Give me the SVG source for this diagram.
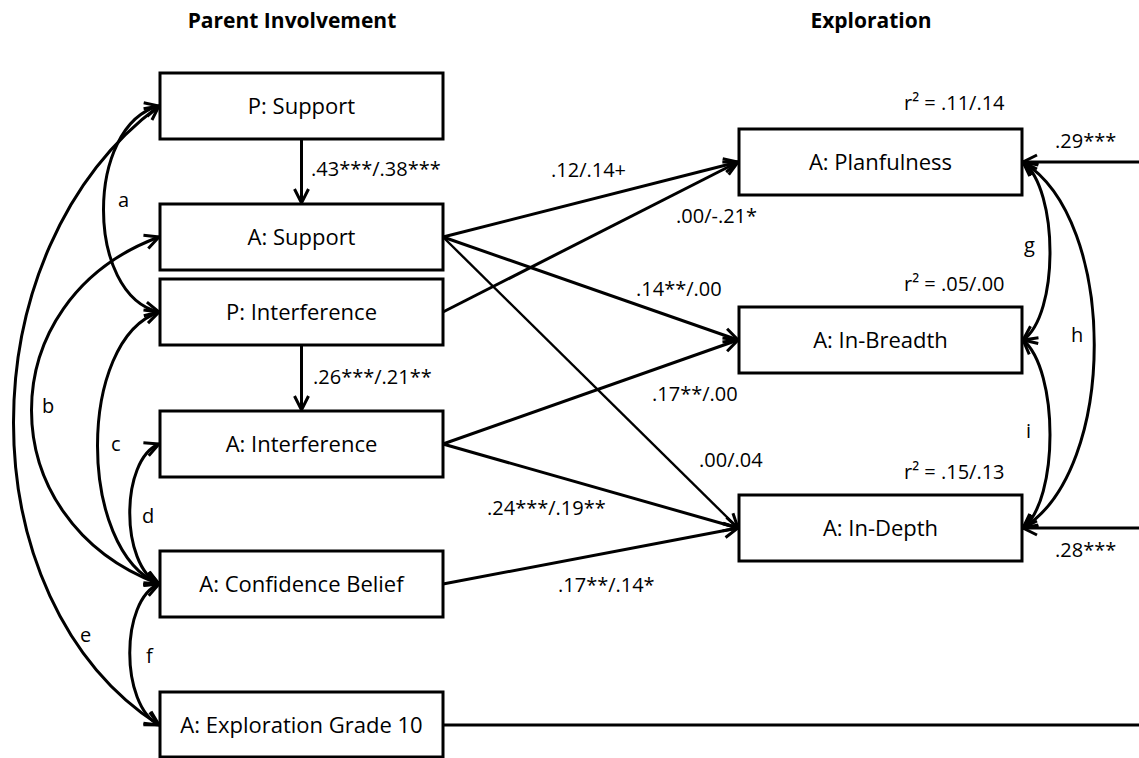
<svg xmlns="http://www.w3.org/2000/svg" width="1139" height="758" viewBox="0 0 1139 758">
<defs>
<style>
.box{fill:#fff;stroke:#000;stroke-width:3}
.nt{font-family:"Open Sans","Liberation Sans",sans-serif;font-size:22px;fill:#000;text-anchor:middle}
.hd{font-family:"Open Sans","Liberation Sans",sans-serif;font-size:21px;font-weight:bold;fill:#000;text-anchor:middle}
.lb{font-family:"Open Sans","Liberation Sans",sans-serif;font-size:20px;fill:#000}
.ln{fill:none;stroke:#000;stroke-width:3}
.th{fill:none;stroke:#000;stroke-width:2.4}
.ar{marker-end:url(#ah)}
.dbl{marker-start:url(#ah);marker-end:url(#ah)}
</style>
<marker id="ah" markerUnits="userSpaceOnUse" markerWidth="20" markerHeight="20" viewBox="-16 -10 20 20" refX="0" refY="0" orient="auto-start-reverse">
<path d="M-14,-7 L0,0 L-14,7" fill="none" stroke="#000" stroke-width="3"/>
</marker>
</defs>
<rect width="1139" height="758" fill="#fff"/>

<text class="hd" x="292" y="28">Parent Involvement</text>
<text class="hd" x="871" y="28">Exploration</text>

<g id="connectors">
<path class="ln ar" d="M301.5,139 L301.5,203"/>
<path class="ln ar" d="M301.5,345 L301.5,410"/>
<path class="ln ar" d="M443,237 L738,162"/>
<path class="ln ar" d="M443,312 L738,162"/>
<path class="ln ar" d="M443,237 L738,340"/>
<path class="th ar" d="M443,237 L738,528"/>
<path class="ln ar" d="M443,444 L738,340"/>
<path class="ln ar" d="M443,444 L738,528"/>
<path class="ln ar" d="M443,584 L738,528"/>
<path class="ln ar" d="M1139,162 L1023,162"/>
<path class="ln ar" d="M1139,528 L1023,528"/>
<path class="ln" d="M443,725 L1139,725"/>
<path class="ln dbl" d="M159,106 C85,125 85,295 159,312"/>
<path class="ln dbl" d="M159,237 C-11,300 -11,520 159,584"/>
<path class="ln dbl" d="M159,312 C77,340 77,550 159,584"/>
<path class="ln dbl" d="M159,444 C120,460 120,565 159,584"/>
<path class="ln dbl" d="M159,106 C-35,250 -35,600 159,725"/>
<path class="ln dbl" d="M159,584 C120,600 120,705 159,725"/>
<path class="ln dbl" d="M1023,162 C1059,190 1059,315 1023,340"/>
<path class="ln dbl" d="M1023,162 C1118,220 1118,470 1023,528"/>
<path class="ln dbl" d="M1023,340 C1059,370 1059,500 1023,528"/>
</g>

<g id="labels">
<text class="lb" x="311" y="176">.43***/.38***</text>
<text class="lb" x="313" y="384">.26***/.21**</text>
<text class="lb" x="551" y="177">.12/.14+</text>
<text class="lb" x="676" y="223">.00/-.21*</text>
<text class="lb" x="636" y="296">.14**/.00</text>
<text class="lb" x="652" y="401">.17**/.00</text>
<text class="lb" x="699" y="467">.00/.04</text>
<text class="lb" x="487" y="515">.24***/.19**</text>
<text class="lb" x="558" y="592">.17**/.14*</text>
<text class="lb" x="904" y="110">r² = .11/.14</text>
<text class="lb" x="904" y="291">r² = .05/.00</text>
<text class="lb" x="904" y="479">r² = .15/.13</text>
<text class="lb" x="1055" y="148">.29***</text>
<text class="lb" x="1055" y="557">.28***</text>
<text class="lb" x="118" y="207">a</text>
<text class="lb" x="42" y="413">b</text>
<text class="lb" x="111" y="451">c</text>
<text class="lb" x="142" y="523">d</text>
<text class="lb" x="80" y="642">e</text>
<text class="lb" x="146" y="663">f</text>
<text class="lb" x="1024" y="252">g</text>
<text class="lb" x="1071" y="342">h</text>
<text class="lb" x="1026" y="438">i</text>
</g>

<g id="p-support"><rect class="box" x="160" y="73" width="283" height="66"/><text class="nt" x="301.5" y="114">P: Support</text></g>
<g id="a-support"><rect class="box" x="160" y="204" width="283" height="66"/><text class="nt" x="301.5" y="245">A: Support</text></g>
<g id="p-interference"><rect class="box" x="160" y="279" width="283" height="66"/><text class="nt" x="301.5" y="320">P: Interference</text></g>
<g id="a-interference"><rect class="box" x="160" y="411" width="283" height="66"/><text class="nt" x="301.5" y="452">A: Interference</text></g>
<g id="a-confidence"><rect class="box" x="160" y="551" width="283" height="66"/><text class="nt" x="301.5" y="592">A: Confidence Belief</text></g>
<g id="a-exploration10"><rect class="box" x="160" y="692" width="283" height="65"/><text class="nt" x="301.5" y="733">A: Exploration Grade 10</text></g>
<g id="a-planfulness"><rect class="box" x="739" y="129" width="283" height="66"/><text class="nt" x="880.5" y="170">A: Planfulness</text></g>
<g id="a-inbreadth"><rect class="box" x="739" y="307" width="283" height="66"/><text class="nt" x="880.5" y="348">A: In-Breadth</text></g>
<g id="a-indepth"><rect class="box" x="739" y="495" width="283" height="66"/><text class="nt" x="880.5" y="536">A: In-Depth</text></g>
</svg>
